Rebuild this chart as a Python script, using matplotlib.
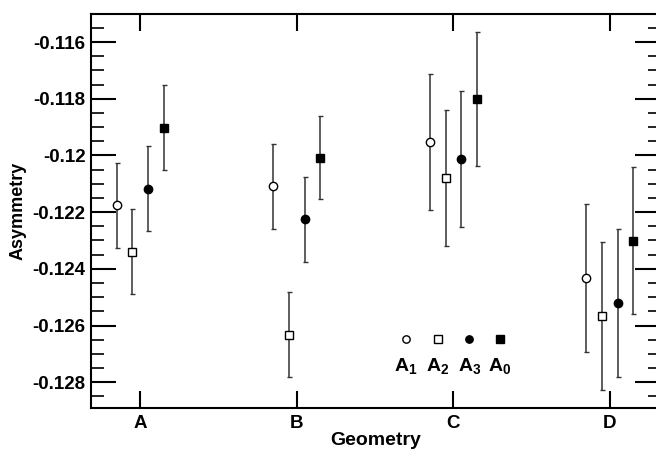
import numpy as np
import matplotlib
matplotlib.use("Agg")
import matplotlib.pyplot as plt
from matplotlib.ticker import MultipleLocator, FuncFormatter

plt.rcParams["font.family"] = ["Liberation Sans", "DejaVu Sans"]
plt.rcParams["font.weight"] = "bold"
plt.rcParams["axes.unicode_minus"] = False
plt.rcParams["mathtext.fontset"] = "custom"
plt.rcParams["mathtext.rm"] = "Liberation Sans:bold"
plt.rcParams["mathtext.bf"] = "Liberation Sans:bold"
plt.rcParams["mathtext.default"] = "bf"

# Данные
geometries = ["A", "B", "C", "D"]
labels = ["A$_1$", "A$_2$", "A$_3$", "A$_0$"]

a1 = [-0.12175, -0.12108, -0.11954, -0.12432]
a1_err = [0.0015, 0.0015, 0.0024, 0.0026]
a2 = [-0.12340, -0.12632, -0.12081, -0.12566]
a2_err = [0.0015, 0.0015, 0.0024, 0.0026]
a3 = [-0.12117, -0.12225, -0.12011, -0.12521]
a3_err = [0.0015, 0.0015, 0.0024, 0.0026]
a0 = [-0.11902, -0.12008, -0.11800, -0.12301]
a0_err = [0.0015, 0.00147, 0.00237, 0.0026]

series = [
    (a1, a1_err, "o", "white"),
    (a2, a2_err, "s", "white"),
    (a3, a3_err, "o", "black"),
    (a0, a0_err, "s", "black"),
]
offsets = [-0.15, -0.05, 0.05, 0.15]

fig = plt.figure(figsize=(6.56, 4.51), dpi=100)
ax = fig.add_axes([91 / 656, 1 - 408 / 451, 569 / 656, 394 / 451])

x = np.arange(1, len(geometries) + 1)
for (vals, err, m, fc), off in zip(series, offsets):
    ax.errorbar(x + off, vals, yerr=err, fmt=m, mfc=fc, mec="black",
                ms=6, mew=1.0, ecolor="#333333", elinewidth=1.1,
                capsize=1.8, capthick=1.0, zorder=3)

# Легенда вручную: маркеры над подписями
leg_x = [0.554, 0.609, 0.665, 0.719]
for (vals, err, m, fc), lx, lab in zip(series, leg_x, labels):
    ax.plot([lx], [0.1744], m, mfc=fc, mec="black", ms=5.3, mew=1.0,
            transform=ax.transAxes, clip_on=False)
    ax.text(lx, 0.106, lab, transform=ax.transAxes, ha="center",
            va="center", fontsize=14, fontweight="bold")

ax.set_xlim(0.685, 4.32)
ax.set_ylim(-0.12891, -0.11501)
ax.set_xticks(x)
ax.set_xticklabels(geometries)
ax.yaxis.set_major_locator(MultipleLocator(0.002))
ax.yaxis.set_minor_locator(MultipleLocator(0.0005))
ax.yaxis.set_major_formatter(FuncFormatter(lambda v, p: "%g" % round(v, 4)))

ax.tick_params(axis="y", which="major", direction="in", length=18, width=1.5,
               labelsize=13.5, right=True, pad=4)
ax.tick_params(axis="y", which="minor", direction="in", length=9, width=1.2,
               right=True)
ax.tick_params(axis="x", which="major", direction="in", length=12, width=1.5,
               labelsize=13.5, top=True, pad=5)
for s in ax.spines.values():
    s.set_linewidth(1.5)

ax.set_xlabel("Geometry", fontsize=14, fontweight="bold", labelpad=0)
ax.set_ylabel("Asymmetry", fontsize=13, fontweight="bold", labelpad=4)

fig.savefig("out.png", dpi=100)
